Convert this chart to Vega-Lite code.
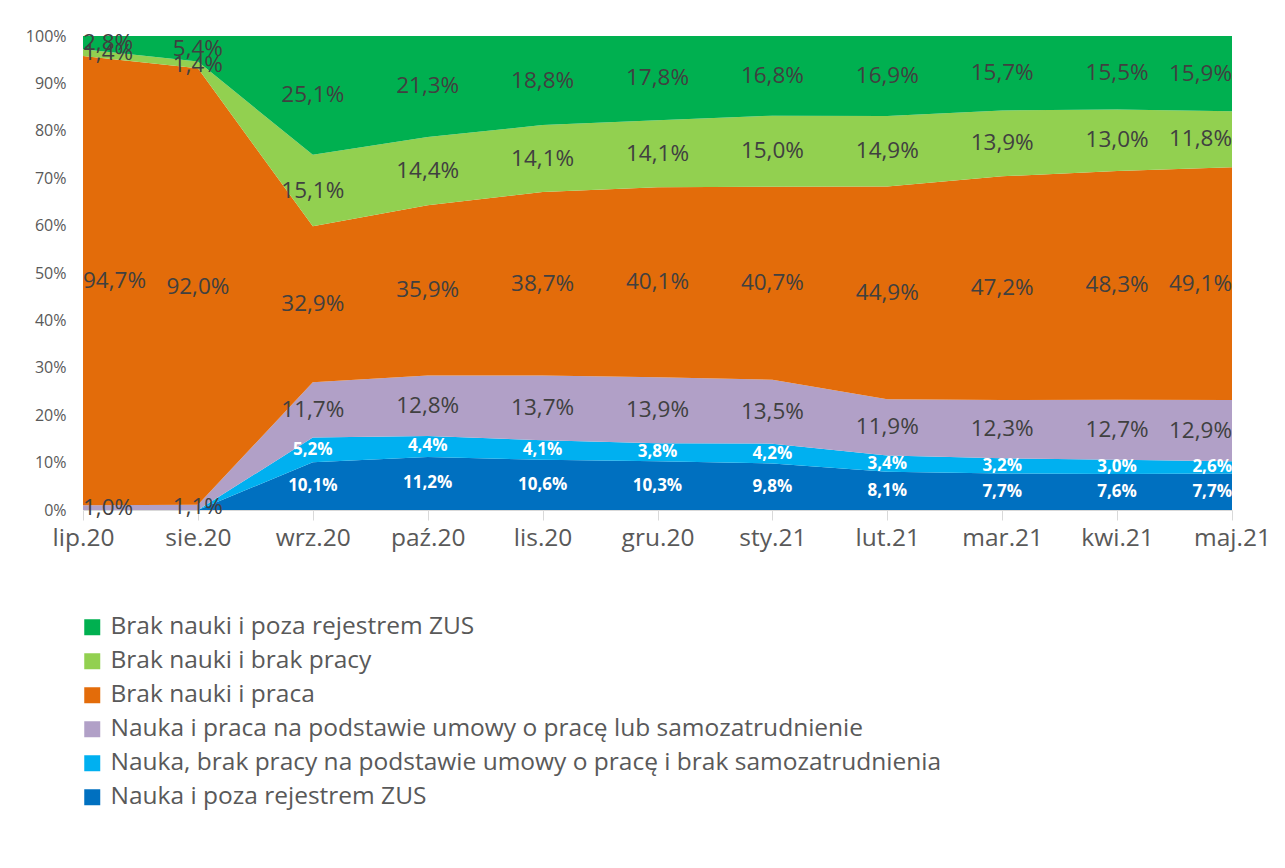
{
  "$schema": "https://vega.github.io/schema/vega-lite/v6.json",
  "width": 1149,
  "height": 474,
  "autosize": {"type": "none"},
  "padding": {"left": 83, "top": 36, "right": 53, "bottom": 358},
  "background": "white",
  "config": {
    "locale": {"number": {"decimal": ",", "thousands": " ", "grouping": [3], "currency": ["", " zł"]}},
    "view": {"stroke": null},
    "font": "Open Sans"
  },
  "datasets": {
    "wide": [
      {"month": "lip.20", "Nauka i poza rejestrem ZUS": 0, "Nauka, brak pracy na podstawie umowy o pracę i brak samozatrudnienia": 0, "Nauka i praca na podstawie umowy o pracę lub samozatrudnienie": 0.010, "Brak nauki i praca": 0.947, "Brak nauki i brak pracy": 0.014, "Brak nauki i poza rejestrem ZUS": 0.028},
      {"month": "sie.20", "Nauka i poza rejestrem ZUS": 0, "Nauka, brak pracy na podstawie umowy o pracę i brak samozatrudnienia": 0, "Nauka i praca na podstawie umowy o pracę lub samozatrudnienie": 0.011, "Brak nauki i praca": 0.920, "Brak nauki i brak pracy": 0.014, "Brak nauki i poza rejestrem ZUS": 0.054},
      {"month": "wrz.20", "Nauka i poza rejestrem ZUS": 0.101, "Nauka, brak pracy na podstawie umowy o pracę i brak samozatrudnienia": 0.052, "Nauka i praca na podstawie umowy o pracę lub samozatrudnienie": 0.117, "Brak nauki i praca": 0.329, "Brak nauki i brak pracy": 0.151, "Brak nauki i poza rejestrem ZUS": 0.251},
      {"month": "paź.20", "Nauka i poza rejestrem ZUS": 0.112, "Nauka, brak pracy na podstawie umowy o pracę i brak samozatrudnienia": 0.044, "Nauka i praca na podstawie umowy o pracę lub samozatrudnienie": 0.128, "Brak nauki i praca": 0.359, "Brak nauki i brak pracy": 0.144, "Brak nauki i poza rejestrem ZUS": 0.213},
      {"month": "lis.20", "Nauka i poza rejestrem ZUS": 0.106, "Nauka, brak pracy na podstawie umowy o pracę i brak samozatrudnienia": 0.041, "Nauka i praca na podstawie umowy o pracę lub samozatrudnienie": 0.137, "Brak nauki i praca": 0.387, "Brak nauki i brak pracy": 0.141, "Brak nauki i poza rejestrem ZUS": 0.188},
      {"month": "gru.20", "Nauka i poza rejestrem ZUS": 0.103, "Nauka, brak pracy na podstawie umowy o pracę i brak samozatrudnienia": 0.038, "Nauka i praca na podstawie umowy o pracę lub samozatrudnienie": 0.139, "Brak nauki i praca": 0.401, "Brak nauki i brak pracy": 0.141, "Brak nauki i poza rejestrem ZUS": 0.178},
      {"month": "sty.21", "Nauka i poza rejestrem ZUS": 0.098, "Nauka, brak pracy na podstawie umowy o pracę i brak samozatrudnienia": 0.042, "Nauka i praca na podstawie umowy o pracę lub samozatrudnienie": 0.135, "Brak nauki i praca": 0.407, "Brak nauki i brak pracy": 0.150, "Brak nauki i poza rejestrem ZUS": 0.168},
      {"month": "lut.21", "Nauka i poza rejestrem ZUS": 0.081, "Nauka, brak pracy na podstawie umowy o pracę i brak samozatrudnienia": 0.034, "Nauka i praca na podstawie umowy o pracę lub samozatrudnienie": 0.119, "Brak nauki i praca": 0.449, "Brak nauki i brak pracy": 0.149, "Brak nauki i poza rejestrem ZUS": 0.169},
      {"month": "mar.21", "Nauka i poza rejestrem ZUS": 0.077, "Nauka, brak pracy na podstawie umowy o pracę i brak samozatrudnienia": 0.032, "Nauka i praca na podstawie umowy o pracę lub samozatrudnienie": 0.123, "Brak nauki i praca": 0.472, "Brak nauki i brak pracy": 0.139, "Brak nauki i poza rejestrem ZUS": 0.157},
      {"month": "kwi.21", "Nauka i poza rejestrem ZUS": 0.076, "Nauka, brak pracy na podstawie umowy o pracę i brak samozatrudnienia": 0.030, "Nauka i praca na podstawie umowy o pracę lub samozatrudnienie": 0.127, "Brak nauki i praca": 0.483, "Brak nauki i brak pracy": 0.130, "Brak nauki i poza rejestrem ZUS": 0.155},
      {"month": "maj.21", "Nauka i poza rejestrem ZUS": 0.077, "Nauka, brak pracy na podstawie umowy o pracę i brak samozatrudnienia": 0.026, "Nauka i praca na podstawie umowy o pracę lub samozatrudnienie": 0.129, "Brak nauki i praca": 0.491, "Brak nauki i brak pracy": 0.118, "Brak nauki i poza rejestrem ZUS": 0.159}
    ],
    "series": [
      {"series": "Nauka i poza rejestrem ZUS", "k": 1},
      {"series": "Nauka, brak pracy na podstawie umowy o pracę i brak samozatrudnienia", "k": 2},
      {"series": "Nauka i praca na podstawie umowy o pracę lub samozatrudnienie", "k": 3},
      {"series": "Brak nauki i praca", "k": 4},
      {"series": "Brak nauki i brak pracy", "k": 5},
      {"series": "Brak nauki i poza rejestrem ZUS", "k": 6}
    ]
  },
  "data": {"name": "wide"},
  "transform": [
    {"fold": ["Nauka i poza rejestrem ZUS", "Nauka, brak pracy na podstawie umowy o pracę i brak samozatrudnienia", "Nauka i praca na podstawie umowy o pracę lub samozatrudnienie", "Brak nauki i praca", "Brak nauki i brak pracy", "Brak nauki i poza rejestrem ZUS"], "as": ["series", "value"]},
    {"lookup": "series", "from": {"data": {"name": "series"}, "key": "series", "fields": ["k"]}},
    {"stack": "value", "groupby": ["month"], "sort": [{"field": "k", "order": "ascending"}], "offset": "normalize", "as": ["y0", "y1"]},
    {"calculate": "(datum.y0 + datum.y1) / 2", "as": "ym"}
  ],
  "encoding": {
    "x": {
      "field": "month", "type": "ordinal",
      "sort": ["lip.20", "sie.20", "wrz.20", "paź.20", "lis.20", "gru.20", "sty.21", "lut.21", "mar.21", "kwi.21", "maj.21"],
      "scale": {"type": "point", "padding": 0},
      "axis": {"title": null, "labelAngle": 0, "domainColor": "#d9d9d9", "domainWidth": 1, "tickColor": "#d9d9d9", "tickSize": 10, "labelFontSize": 24.5, "labelColor": "#595959", "labelPadding": 6, "labelFlush": false, "labelOverlap": false, "grid": false, "labelFont": "Open Sans"}
    }
  },
  "layer": [
    {
      "mark": {"type": "area", "interpolate": "linear", "opacity": 1},
      "encoding": {
        "y": {"field": "y1", "type": "quantitative", "scale": {"domain": [0, 1]},
          "axis": {"title": null, "values": [0, 0.1, 0.2, 0.3, 0.4, 0.5, 0.6, 0.7, 0.8, 0.9, 1], "format": ".0%", "domain": false, "ticks": false, "grid": false, "labelFontSize": 16, "labelColor": "#595959", "labelPadding": 17, "labelFont": "Open Sans"}},
        "y2": {"field": "y0"},
        "color": {
          "field": "series", "type": "nominal",
          "scale": {
            "domain": ["Brak nauki i poza rejestrem ZUS", "Brak nauki i brak pracy", "Brak nauki i praca", "Nauka i praca na podstawie umowy o pracę lub samozatrudnienie", "Nauka, brak pracy na podstawie umowy o pracę i brak samozatrudnienia", "Nauka i poza rejestrem ZUS"],
            "range": ["#00B050", "#92D050", "#E36C0A", "#B1A0C7", "#00B0F0", "#0070C0"]
          },
          "legend": {"orient": "none", "legendX": -3, "legendY": 579, "direction": "vertical", "title": null, "symbolType": "square", "symbolSize": 256, "symbolStrokeWidth": 0, "symbolOpacity": 1, "labelFontSize": 24.5, "labelColor": "#595959", "labelOffset": 6, "rowPadding": 9, "labelLimit": 1100, "padding": 0, "labelFont": "Open Sans"}
        }
      }
    },
    {
      "transform": [{"filter": "datum.value > 0"}],
      "mark": {
        "type": "text", "baseline": "middle", "font": "Open Sans",
        "align": {"expr": "datum.month === 'lip.20' ? 'left' : (datum.month === 'maj.21' ? 'right' : 'center')"},
        "fontWeight": {"expr": "datum.k <= 2 ? 'bold' : 'normal'"}
      },
      "encoding": {
        "y": {"field": "ym", "type": "quantitative", "title": null},
        "text": {"field": "value", "type": "quantitative", "format": ".1%"},
        "color": {"condition": {"test": "datum.k <= 2", "value": "#ffffff"}, "value": "#404040"},
        "size": {"condition": {"test": "datum.k <= 2", "value": 17}, "value": 22.5}
      }
    }
  ]
}
